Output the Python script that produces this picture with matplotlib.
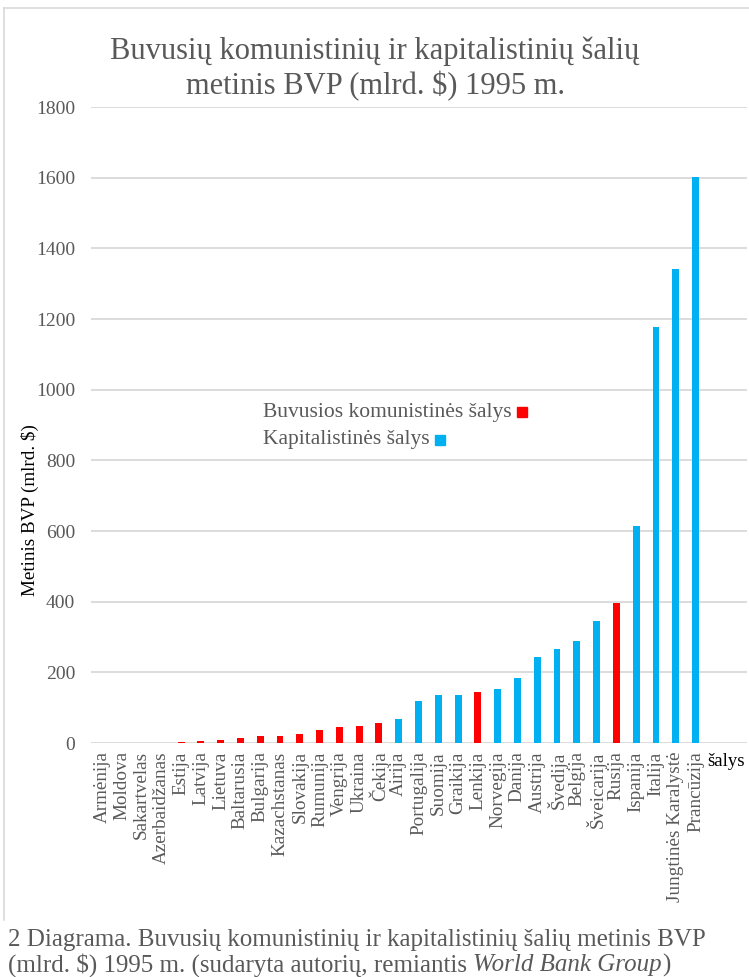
import numpy as np
import matplotlib
matplotlib.use('Agg')
import matplotlib.pyplot as plt

plt.rcParams['font.family'] = ['Liberation Serif', 'DejaVu Serif']

# duomenys (mlrd. $), 1995 m.
salys = ['Armėnija', 'Moldova', 'Sakartvelas', 'Azerbaidžanas', 'Estija', 'Latvija',
         'Lietuva', 'Baltarusia', 'Bulgarija', 'Kazachstanas', 'Slovakija', 'Rumunija',
         'Vengrija', 'Ukraina', 'Čekija', 'Airija', 'Portugalija', 'Suomija', 'Graikija',
         'Lenkija', 'Norvegija', 'Danija', 'Austrija', 'Švedija', 'Belgija', 'Šveicarija',
         'Rusija', 'Ispanija', 'Italija', 'Jungtinės Karalystė', 'Prancūzija']
bvp = [0, 0, 0, 0, 4, 5, 8, 14, 19, 21, 25, 37, 46, 47, 58, 69, 118, 135, 137, 143,
       152, 185, 242, 265, 288, 344, 395, 614, 1176, 1342, 1601]
komunistines = [1, 1, 1, 1, 1, 1, 1, 1, 1, 1, 1, 1, 1, 1, 1, 0, 0, 0, 0, 1,
                0, 0, 0, 0, 0, 0, 1, 0, 0, 0, 0]
y_ticks = [0, 200, 400, 600, 800, 1000, 1200, 1400, 1600, 1800]

raudona = '#FF0000'
melyna = '#00B0F0'
pilka = '#595959'
W, H = 749, 977

fig = plt.figure(figsize=(W / 100, H / 100), dpi=100)
ax = fig.add_axes([91 / W, 1 - 743 / H, (747 - 91) / W, (743 - 107) / H])

x = np.arange(len(salys))
spalvos = [raudona if k else melyna for k in komunistines]
ax.bar(x, bvp, width=0.35, color=spalvos, zorder=3)

ax.set_ylim(0, 1800)
ax.set_xlim(-0.55, 32.6)
ax.set_yticks(y_ticks)
ax.set_yticklabels([str(v) for v in y_ticks], fontsize=14, color=pilka)
ax.set_xticks(x)
ax.set_xticklabels(salys, rotation=90, fontsize=13.8, color=pilka, va='top')
ax.tick_params(axis='both', length=0)
ax.tick_params(axis='y', pad=11.5)
ax.tick_params(axis='x', pad=6)
ax.grid(axis='y', color='#D9D9D9', linewidth=1.3, zorder=0)
for s in ax.spines.values():
    s.set_visible(False)

# diagramos rėmelis
fig.add_artist(plt.Line2D([4 / W, 4 / W], [1 - 8 / H, 1 - 920 / H], color='#D9D9D9', lw=1.2))
fig.add_artist(plt.Line2D([4 / W, 1], [1 - 8 / H, 1 - 8 / H], color='#D9D9D9', lw=1.2))

fig.text(375 / W, 1 - 69 / H, 'Buvusių komunistinių ir kapitalistinių šalių\nmetinis BVP (mlrd. $) 1995 m.',
         ha='center', va='center', fontsize=22, color=pilka, linespacing=1.2)
fig.text(30 / W, 1 - 510 / H, 'Metinis BVP (mlrd. $)', rotation=90, ha='center', va='center',
         fontsize=13.8, color='black')
fig.text(745 / W, 1 - 762 / H, 'šalys', ha='right', va='center', fontsize=13.5, color='black')

# legenda: kvadratėlis po tekstu
fig.canvas.draw()
rend = fig.canvas.get_renderer()
for i, (pav, sp) in enumerate([('Buvusios komunistinės šalys', raudona), ('Kapitalistinės šalys', melyna)]):
    yy = 1 - (412 + 28 * i) / H
    t = fig.text(263 / W, yy, pav, ha='left', va='center', fontsize=15.5, color=pilka)
    bb = t.get_window_extent(rend)
    fig.add_artist(plt.Line2D([(bb.x1 + 10) / W], [yy], marker='s', markersize=7,
                              color=sp, linestyle='none'))

# antraštė po diagrama
fig.text(8 / W, 1 - 940 / H, '2 Diagrama. Buvusių komunistinių ir kapitalistinių šalių metinis BVP',
         ha='left', va='center', fontsize=18, color=pilka)
t1 = fig.text(8 / W, 1 - 965 / H, '(mlrd. $) 1995 m. (sudaryta autorių, remiantis ',
              ha='left', va='center', fontsize=18, color=pilka)
bb = t1.get_window_extent(rend)
t2 = fig.text(bb.x1 / W, 1 - 965 / H, 'World Bank Group', ha='left', va='center',
              fontsize=18, color=pilka, style='italic')
bb = t2.get_window_extent(rend)
fig.text(bb.x1 / W, 1 - 965 / H, ')', ha='left', va='center', fontsize=18, color=pilka)

fig.savefig('out.png', dpi=100)
